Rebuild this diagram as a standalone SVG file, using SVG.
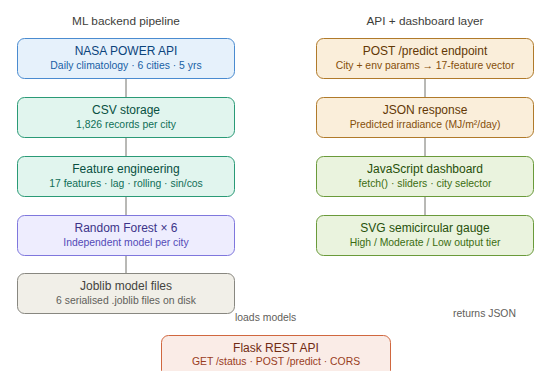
<svg xmlns="http://www.w3.org/2000/svg" width="536" height="371" viewBox="0 0 536 371">
<style>
.hd{font-family:"Liberation Sans",Arial,sans-serif;font-size:11.8px;fill:#3d3d3a;text-anchor:middle}
.t{font-family:"Liberation Sans",Arial,sans-serif;font-size:12px;text-anchor:middle}
.s{font-family:"Liberation Sans",Arial,sans-serif;font-size:10.4px;text-anchor:middle}
.lb{font-family:"Liberation Sans",Arial,sans-serif;font-size:10.4px;fill:#5f5e5a}
.box{stroke-width:1}
.blue rect{fill:#E6F1FB;stroke:#4a8bd0}.blue .t{fill:#0C447C}.blue .s{fill:#185FA5}
.teal rect{fill:#E1F5EE;stroke:#2a9a76}.teal .t{fill:#085041}.teal .s{fill:#0F6E56}
.purp rect{fill:#EEEDFE;stroke:#7F77DD}.purp .t{fill:#3C3489}.purp .s{fill:#534AB7}
.gray rect{fill:#F1EFE8;stroke:#888780}.gray .t{fill:#444441}.gray .s{fill:#5F5E5A}
.amb rect{fill:#FAEEDA;stroke:#B07a2a}.amb .t{fill:#633806}.amb .s{fill:#854F0B}
.grn rect{fill:#EAF3DE;stroke:#6a9a3a}.grn .t{fill:#27500A}.grn .s{fill:#3B6D11}
.cor rect{fill:#FAECE7;stroke:#D0673f}.cor .t{fill:#712B13}.cor .s{fill:#993C1D}
.conn line{stroke:#73726c;stroke-width:1}
</style>
<text class="hd" x="126" y="25">ML backend pipeline</text>
<text class="hd" x="425" y="25">API + dashboard layer</text>
<g id="connectors" class="conn">
<line x1="126" y1="79" x2="126" y2="97"/>
<line x1="126" y1="137" x2="126" y2="156"/>
<line x1="126" y1="196" x2="126" y2="215"/>
<line x1="126" y1="255" x2="126" y2="273"/>
<line x1="425" y1="79" x2="425" y2="97"/>
<line x1="425" y1="137" x2="425" y2="156"/>
<line x1="425" y1="196" x2="425" y2="215"/>
<text class="lb" x="235" y="321">loads models</text>
<text class="lb" x="453" y="317">returns JSON</text>
</g>
<g id="nasa" class="blue"><rect class="box" x="17.5" y="38.5" width="217" height="40" rx="7"/><text class="t" x="126" y="55">NASA POWER API</text><text class="s" x="126" y="69">Daily climatology · 6 cities · 5 yrs</text></g>
<g id="csv" class="teal"><rect class="box" x="17.5" y="97.5" width="217" height="40" rx="7"/><text class="t" x="126" y="114">CSV storage</text><text class="s" x="126" y="128">1,826 records per city</text></g>
<g id="feat" class="teal"><rect class="box" x="17.5" y="156.5" width="217" height="40" rx="7"/><text class="t" x="126" y="173">Feature engineering</text><text class="s" x="126" y="187">17 features · lag · rolling · sin/cos</text></g>
<g id="rf" class="purp"><rect class="box" x="17.5" y="215.5" width="217" height="40" rx="7"/><text class="t" x="126" y="232">Random Forest × 6</text><text class="s" x="126" y="246">Independent model per city</text></g>
<g id="joblib" class="gray"><rect class="box" x="17.5" y="273.5" width="217" height="40" rx="7"/><text class="t" x="126" y="290">Joblib model files</text><text class="s" x="126" y="304">6 serialised .joblib files on disk</text></g>
<g id="post" class="amb"><rect class="box" x="316.5" y="38.5" width="217" height="40" rx="7"/><text class="t" x="425" y="55">POST /predict endpoint</text><text class="s" x="425" y="69">City + env params → 17-feature vector</text></g>
<g id="json" class="amb"><rect class="box" x="316.5" y="97.5" width="217" height="40" rx="7"/><text class="t" x="425" y="114">JSON response</text><text class="s" x="425" y="128">Predicted irradiance (MJ/m²/day)</text></g>
<g id="js" class="grn"><rect class="box" x="316.5" y="156.5" width="217" height="40" rx="7"/><text class="t" x="425" y="173">JavaScript dashboard</text><text class="s" x="425" y="187">fetch() · sliders · city selector</text></g>
<g id="gauge" class="grn"><rect class="box" x="316.5" y="215.5" width="217" height="40" rx="7"/><text class="t" x="425" y="232">SVG semicircular gauge</text><text class="s" x="425" y="246">High / Moderate / Low output tier</text></g>
<g id="flask" class="cor"><rect class="box" x="161.5" y="335.5" width="229" height="42" rx="7"/><text class="t" x="276" y="352">Flask REST API</text><text class="s" x="276" y="365">GET /status · POST /predict · CORS</text></g>
</svg>
